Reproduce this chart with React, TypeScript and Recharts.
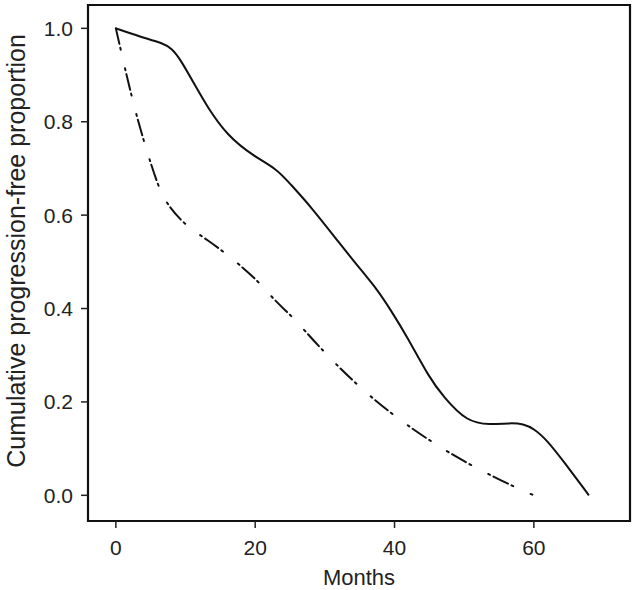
import React from "react";
import {
  LineChart,
  Line,
  XAxis,
  YAxis,
  ReferenceArea,
  Label,
} from "recharts";

// solid curve
const solidMonths = [0, 3.5, 6.8, 8.0, 9.2, 11.1, 13.1, 16, 19.7, 23.1, 25, 27.9, 32.2, 35.1, 37.5, 39.4, 41.8, 44.9, 47, 50.4, 53.7, 56.6, 58.5, 60, 61.9, 64.3, 67.9];
const solidValues = [1.0, 0.982, 0.968, 0.957, 0.935, 0.885, 0.832, 0.77, 0.727, 0.699, 0.667, 0.62, 0.538, 0.484, 0.441, 0.398, 0.34, 0.254, 0.211, 0.157, 0.151, 0.155, 0.153, 0.143, 0.118, 0.072, 0.0];

// dash-dot curve
const dashMonths = [0, 2.3, 4.1, 6.1, 7.3, 10, 13.1, 16.9, 20.7, 22.6, 25.5, 27.2, 30, 34.8, 40.1, 45.6, 51.3, 57.6, 60];
const dashValues = [1.0, 0.849, 0.753, 0.66, 0.624, 0.577, 0.548, 0.505, 0.455, 0.42, 0.38, 0.351, 0.305, 0.233, 0.168, 0.111, 0.061, 0.015, 0.0];

const xTicks = [0, 20, 40, 60];
const yTicks = [0, 0.2, 0.4, 0.6, 0.8, 1.0];

const X_DOMAIN: [number, number] = [-4, 73.8];
const Y_DOMAIN: [number, number] = [-0.055, 1.05];

const FONT = "'Liberation Sans', Arial, Helvetica, sans-serif";

const solidData = solidMonths.map((m, i) => ({ m, v: solidValues[i] }));
const dashData = dashMonths.map((m, i) => ({ m, v: dashValues[i] }));

export default function App() {
  return (
    <div style={{ position: "absolute", left: 0, top: 0, background: "#fff" }}>
      <LineChart
        width={634}
        height={590}
        margin={{ top: 5, right: 4, bottom: 0, left: 0 }}
        style={{ fontFamily: FONT }}
      >
        <XAxis
          dataKey="m"
          type="number"
          domain={X_DOMAIN}
          allowDataOverflow
          ticks={xTicks}
          height={69}
          axisLine={false}
          tickSize={7}
          tickMargin={12}
          tickLine={{ stroke: "#222", strokeWidth: 1.5 }}
          tick={{ fill: "#222", fontSize: 21, fontFamily: FONT }}
        >
          <Label
            value="Months"
            position="insideBottom"
            offset={5}
            style={{ fill: "#222", fontSize: 22, fontFamily: FONT }}
          />
        </XAxis>
        <YAxis
          type="number"
          domain={Y_DOMAIN}
          allowDataOverflow
          ticks={yTicks}
          width={88}
          axisLine={false}
          tickSize={7}
          tickMargin={8}
          tickLine={{ stroke: "#222", strokeWidth: 1.5 }}
          tickFormatter={(v: number) => v.toFixed(1)}
          tick={{ fill: "#222", fontSize: 21, fontFamily: FONT }}
        >
          <Label
            content={(props: any) => {
              const vb = props.viewBox || { x: 0, y: 0, width: 0, height: 0 };
              const cx = vb.x + 16;
              const cy = vb.y + vb.height / 2 - 12;
              return (
                <text
                  x={cx}
                  y={cy}
                  transform={`rotate(-90 ${cx} ${cy})`}
                  textAnchor="middle"
                  dominantBaseline="central"
                  fill="#222"
                  fontSize={25}
                  fontFamily={FONT}
                >
                  Cumulative progression-free proportion
                </text>
              );
            }}
          />
        </YAxis>
        <ReferenceArea
          x1={X_DOMAIN[0]}
          x2={X_DOMAIN[1]}
          y1={Y_DOMAIN[0]}
          y2={Y_DOMAIN[1]}
          fill="none"
          stroke="#111"
          strokeWidth={2.2}
          ifOverflow="visible"
        />
        <Line
          data={solidData}
          dataKey="v"
          type="basis"
          stroke="#111"
          strokeWidth={2}
          dot={false}
          activeDot={false}
          isAnimationActive={false}
        />
        <Line
          data={dashData}
          dataKey="v"
          type="basis"
          stroke="#111"
          strokeWidth={2}
          strokeDasharray="2 4 16 4 2 19"
          strokeDashoffset={6}
          strokeLinecap="round"
          dot={false}
          activeDot={false}
          isAnimationActive={false}
        />
      </LineChart>
    </div>
  );
}
